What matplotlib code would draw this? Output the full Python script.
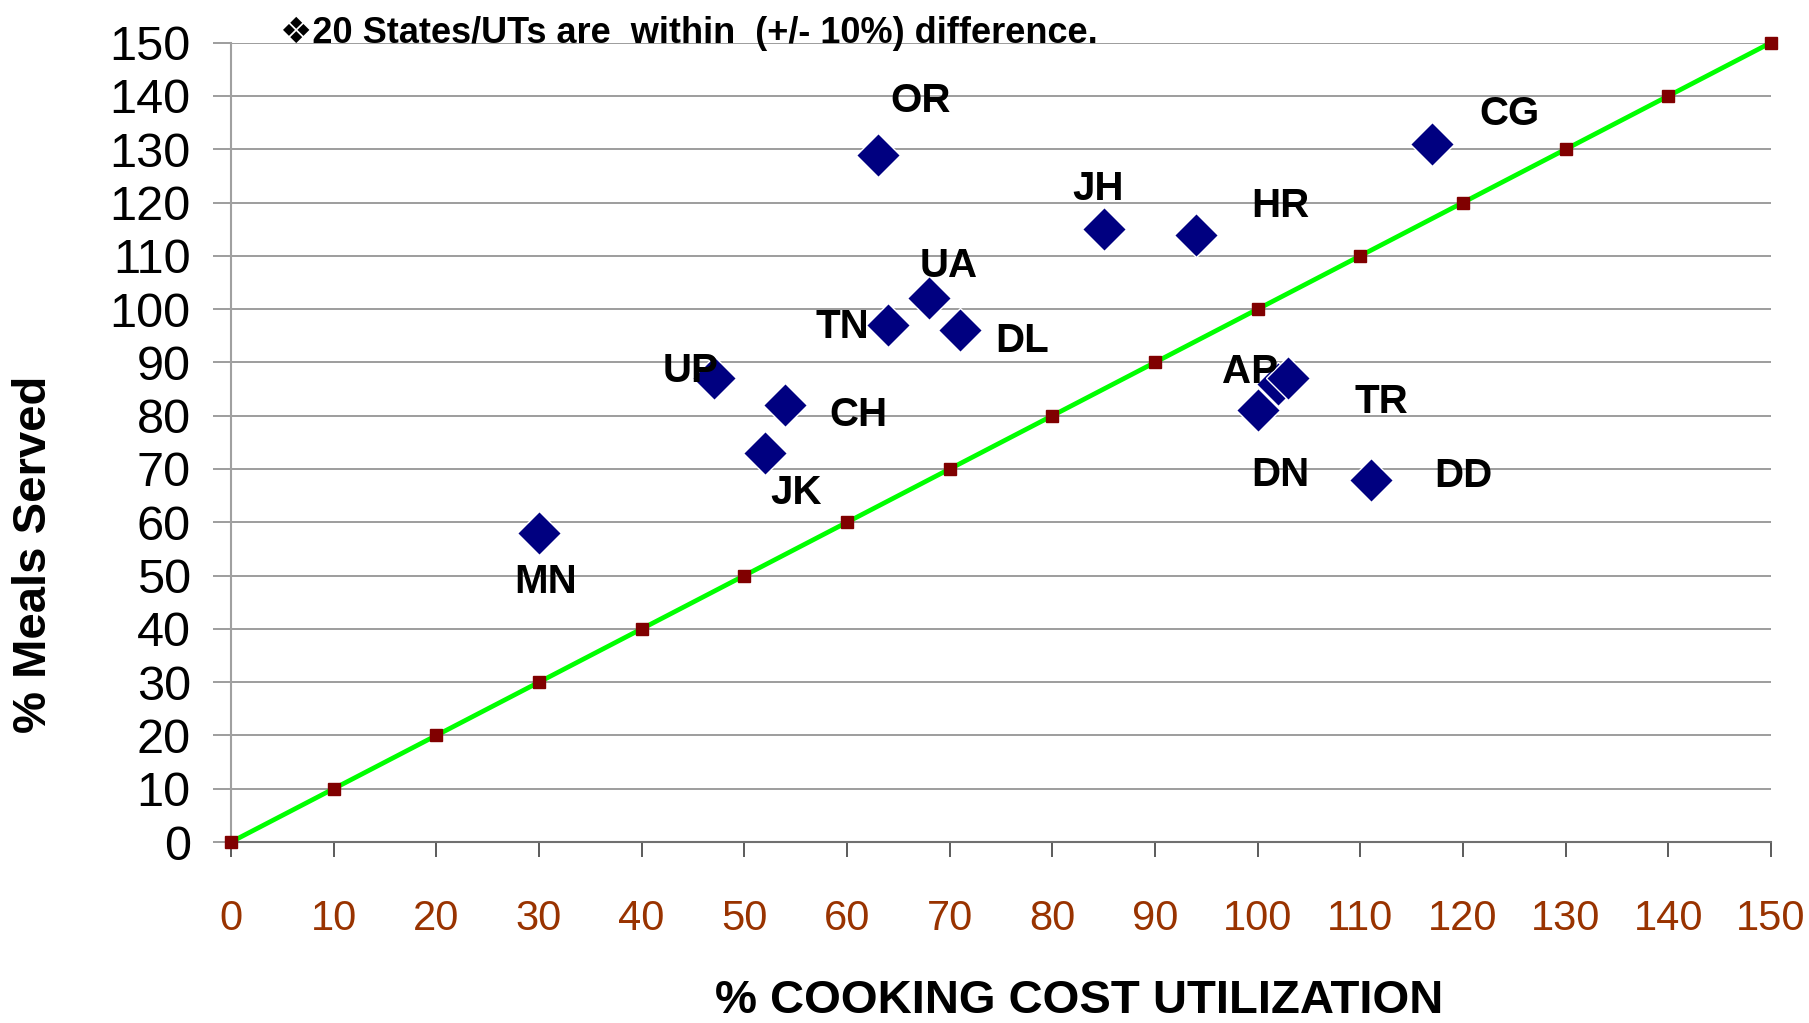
import matplotlib
matplotlib.use("Agg")
import matplotlib.pyplot as plt

# data
states = ['OR', 'CG', 'JH', 'HR', 'UA', 'TN', 'DL', 'UP', 'CH', 'JK', 'MN', 'AP', 'TR', 'DN', 'DD']
cooking_cost = [63, 117, 85, 94, 68, 64, 71, 47, 54, 52, 30, 102, 103, 100, 111]
meals_served = [129, 131, 115, 114, 102, 97, 96, 87, 82, 73, 58, 86, 87, 81, 68]

# equal-utilization reference line
ref_x = [0, 10, 20, 30, 40, 50, 60, 70, 80, 90, 100, 110, 120, 130, 140, 150]
ref_y = [0, 10, 20, 30, 40, 50, 60, 70, 80, 90, 100, 110, 120, 130, 140, 150]

ticks = [0, 10, 20, 30, 40, 50, 60, 70, 80, 90, 100, 110, 120, 130, 140, 150]

# label placement (pixels from the marker)
label_offsets = {
    'OR': (43, 54), 'CG': (77, 30), 'JH': (-6, 40), 'HR': (84, 29),
    'UA': (20, 32), 'TN': (-46, -2), 'DL': (62, -11), 'UP': (-23, 7),
    'CH': (73, -10), 'JK': (31, -40), 'MN': (7, -49), 'AP': (-28, 12),
    'TR': (93, -24), 'DN': (23, -65), 'DD': (93, 4),
}

plt.rcParams['font.family'] = ['Liberation Sans', 'DejaVu Sans']

fig = plt.figure(figsize=(18.09, 10.23), dpi=100)
ax = fig.add_axes([0.1277, 0.1769, 0.8513, 0.7814])

ax.set_xlim(0, 150)
ax.set_ylim(0, 150)
ax.set_xticks(ticks)
ax.set_yticks(ticks)

ax.grid(axis='y', color='#8c8c8c', linewidth=1.2, zorder=0)
ax.set_axisbelow(True)

ax.plot(ref_x, ref_y, color='#00ff00', linewidth=3.4, marker='s', markersize=8.5,
        markerfacecolor='#800000', markeredgecolor='#800000', clip_on=False, zorder=3)

ax.plot(cooking_cost, meals_served, linestyle='none', marker='D', markersize=22,
        markerfacecolor='#000080', markeredgecolor='white', markeredgewidth=1,
        clip_on=False, zorder=4)

for s, x, y in zip(states, cooking_cost, meals_served):
    ax.annotate(s, (x, y), xytext=label_offsets[s], textcoords='offset pixels',
                ha='center', va='center', fontsize=29, fontweight='bold', zorder=5)

for side in ['top', 'right']:
    ax.spines[side].set_visible(False)
ax.spines['left'].set_color('#a0a0a0')
ax.spines['left'].set_linewidth(1.5)
ax.spines['bottom'].set_color('#707070')
ax.spines['bottom'].set_linewidth(1.5)

ax.tick_params(axis='x', direction='out', length=11, width=1.2, color='#404040',
               pad=30, labelsize=30, labelcolor='#993300')
ax.tick_params(axis='y', direction='out', length=13, width=1.2, color='#8c8c8c',
               pad=16, labelsize=35, labelcolor='black')

fig.text(0.5965, 0.0215, '% COOKING COST UTILIZATION', ha='center', va='center',
         fontsize=34, fontweight='bold')
fig.text(0.019, 0.4585, '% Meals Served', ha='center', va='center', rotation=90,
         fontsize=34, fontweight='bold')
fig.text(0.1548, 0.9672, '\u275620 States/UTs are  within  (+/- 10%) difference.',
         ha='left', va='center', fontsize=26, fontweight='bold')

fig.savefig('out.png', dpi=100)
